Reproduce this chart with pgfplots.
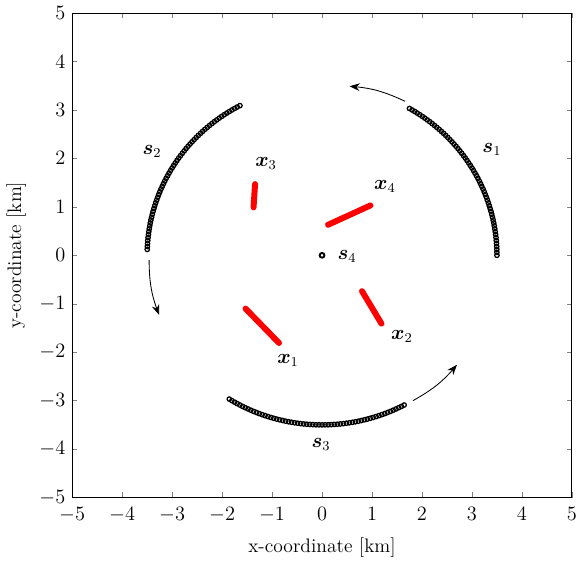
\documentclass[border=0pt]{standalone}
\usepackage{pgfplots}
\pgfplotsset{compat=1.18}
\usepackage{bm}
\usetikzlibrary{arrows.meta}
\begin{document}
\fontsize{11.5}{14}\selectfont
\begin{tikzpicture}[font=\fontsize{11.5}{14}\selectfont]
\begin{axis}[
  scale only axis,
  width=294pt, height=285pt,
  xmin=-5, xmax=5, ymin=-5, ymax=5,
  xtick={-5,-4,...,5}, ytick={-5,-4,...,5},
  tick align=inside,
  major tick length=3pt,
  tick label style={font=\fontsize{11.5}{14}\selectfont},
  xticklabel style={yshift=-2pt},
  label style={font=\fontsize{11.5}{14}\selectfont},
  xlabel={x-coordinate [km]},
  ylabel={y-coordinate [km]},
  xlabel style={yshift=-1pt},
  axis line style={line width=0.5pt},
  clip=false,
]
% s1: 0..60 deg
\addplot[only marks, mark=o, mark size=1.3pt, mark options={line width=0.75pt}, black] coordinates {
(3.500,0.000)(3.499,0.061)(3.498,0.122)(3.495,0.183)(3.491,0.244)(3.487,0.305)
(3.481,0.366)(3.474,0.427)(3.466,0.487)(3.457,0.548)(3.447,0.608)(3.436,0.668)
(3.424,0.728)(3.410,0.787)(3.396,0.847)(3.381,0.906)(3.364,0.965)(3.347,1.023)
(3.329,1.082)(3.309,1.139)(3.289,1.197)(3.268,1.254)(3.245,1.311)(3.222,1.368)
(3.197,1.424)(3.172,1.479)(3.146,1.534)(3.119,1.589)(3.090,1.643)(3.061,1.697)
(3.031,1.750)(3.000,1.803)(2.968,1.855)(2.935,1.906)(2.902,1.957)(2.867,2.008)
(2.832,2.057)(2.795,2.106)(2.758,2.155)(2.720,2.203)(2.681,2.250)(2.641,2.296)
(2.601,2.342)(2.560,2.387)(2.518,2.431)(2.475,2.475)(2.431,2.518)(2.387,2.560)
(2.342,2.601)(2.296,2.641)(2.250,2.681)(2.203,2.720)(2.155,2.758)(2.106,2.795)
(2.057,2.832)(2.008,2.867)(1.957,2.902)(1.906,2.935)(1.855,2.968)(1.803,3.000)
(1.750,3.031)
};
% s2: 118..178 deg
\addplot[only marks, mark=o, mark size=1.3pt, mark options={line width=0.75pt}, black] coordinates {
(-3.498,0.122)(-3.495,0.183)(-3.491,0.244)(-3.487,0.305)
(-3.481,0.366)(-3.474,0.427)(-3.466,0.487)(-3.457,0.548)(-3.447,0.608)(-3.436,0.668)
(-3.424,0.728)(-3.410,0.787)(-3.396,0.847)(-3.381,0.906)(-3.364,0.965)(-3.347,1.023)
(-3.329,1.082)(-3.309,1.139)(-3.289,1.197)(-3.268,1.254)(-3.245,1.311)(-3.222,1.368)
(-3.197,1.424)(-3.172,1.479)(-3.146,1.534)(-3.119,1.589)(-3.090,1.643)(-3.061,1.697)
(-3.031,1.750)(-3.000,1.803)(-2.968,1.855)(-2.935,1.906)(-2.902,1.957)(-2.867,2.008)
(-2.832,2.057)(-2.795,2.106)(-2.758,2.155)(-2.720,2.203)(-2.681,2.250)(-2.641,2.296)
(-2.601,2.342)(-2.560,2.387)(-2.518,2.431)(-2.475,2.475)(-2.431,2.518)(-2.387,2.560)
(-2.342,2.601)(-2.296,2.641)(-2.250,2.681)(-2.203,2.720)(-2.155,2.758)(-2.106,2.795)
(-2.057,2.832)(-2.008,2.867)(-1.957,2.902)(-1.906,2.935)(-1.855,2.968)(-1.803,3.000)
(-1.750,3.031)(-1.697,3.061)(-1.643,3.090)
};
% s3: 238..298 deg
\addplot[only marks, mark=o, mark size=1.3pt, mark options={line width=0.75pt}, black] coordinates {
(-1.855,-2.968)(-1.803,-3.000)
(-1.750,-3.031)(-1.697,-3.061)(-1.643,-3.090)(-1.589,-3.119)(-1.534,-3.146)(-1.479,-3.172)
(-1.424,-3.197)(-1.368,-3.222)(-1.311,-3.245)(-1.254,-3.268)(-1.197,-3.289)(-1.139,-3.309)
(-1.082,-3.329)(-1.023,-3.347)(-0.965,-3.364)(-0.906,-3.381)(-0.847,-3.396)(-0.787,-3.410)
(-0.728,-3.424)(-0.668,-3.436)(-0.608,-3.447)(-0.548,-3.457)(-0.487,-3.466)(-0.427,-3.474)
(-0.366,-3.481)(-0.305,-3.487)(-0.244,-3.491)(-0.183,-3.495)(-0.122,-3.498)(-0.061,-3.499)
(0.000,-3.500)
(0.061,-3.499)(0.122,-3.498)(0.183,-3.495)(0.244,-3.491)(0.305,-3.487)(0.366,-3.481)
(0.427,-3.474)(0.487,-3.466)(0.548,-3.457)(0.608,-3.447)(0.668,-3.436)(0.728,-3.424)
(0.787,-3.410)(0.847,-3.396)(0.906,-3.381)(0.965,-3.364)(1.023,-3.347)(1.082,-3.329)
(1.139,-3.309)(1.197,-3.289)(1.254,-3.268)(1.311,-3.245)(1.368,-3.222)(1.424,-3.197)
(1.479,-3.172)(1.534,-3.146)(1.589,-3.119)(1.643,-3.090)
};
% s4
\addplot[only marks, mark=o, mark size=1.4pt, mark options={line width=1.1pt}, black] coordinates {(0,0)};
% x tracks
\addplot[red, line width=3.5pt, line cap=round] coordinates {(-1.53,-1.10)(-0.86,-1.81)};
\addplot[red, line width=3.5pt, line cap=round] coordinates {(0.80,-0.74)(1.19,-1.41)};
\addplot[red, line width=3.5pt, line cap=round] coordinates {(-1.34,1.47)(-1.37,0.99)};
\addplot[red, line width=3.5pt, line cap=round] coordinates {(0.12,0.63)(0.97,1.03)};
% arrows
\draw[-{Stealth[length=6pt,width=4.5pt]}, line width=0.5pt] (axis cs:1.66,3.18) to[bend right=10] (axis cs:0.55,3.49);
\draw[-{Stealth[length=6pt,width=4.5pt]}, line width=0.5pt] (axis cs:-3.46,-0.10) to[bend right=10] (axis cs:-3.26,-1.23);
\draw[-{Stealth[length=6pt,width=4.5pt]}, line width=0.5pt] (axis cs:1.82,-3.00) to[bend right=10] (axis cs:2.70,-2.26);
% labels
\node at (axis cs:3.40,2.18) {$\bm{s}_1$};
\node at (axis cs:-3.40,2.14) {$\bm{s}_2$};
\node at (axis cs:-0.02,-3.90) {$\bm{s}_3$};
\node at (axis cs:0.50,-0.02) {$\bm{s}_4$};
\node at (axis cs:-0.68,-2.18) {$\bm{x}_1$};
\node at (axis cs:1.60,-1.68) {$\bm{x}_2$};
\node at (axis cs:-1.12,1.89) {$\bm{x}_3$};
\node at (axis cs:1.26,1.42) {$\bm{x}_4$};
\end{axis}
\pgfresetboundingbox
\path[use as bounding box] (current axis.outer south west) rectangle ([xshift=3pt]current axis.east |- current axis.outer north east);
\end{tikzpicture}
\end{document}
